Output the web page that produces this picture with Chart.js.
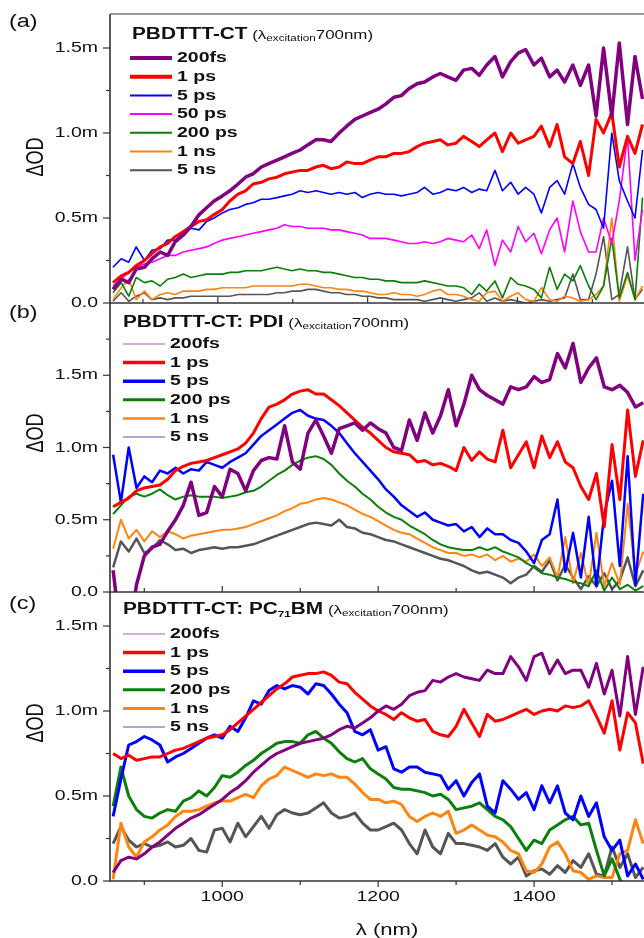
<!DOCTYPE html>
<html lang="en">
<head>
<meta charset="UTF-8" />
<title>Transient absorption spectra</title>
<style>
  body { margin: 0; background: #fff; }
  #wrap { position: relative; width: 644px; height: 938px; overflow: hidden; }
  canvas { position: absolute; left: 0; }
</style>
</head>
<body>
<script src="https://cdn.jsdelivr.net/npm/chart.js"></script>
<div id="wrap">
  <canvas id="chartA" width="644" height="312" style="top:0px"></canvas>
  <canvas id="chartB" width="644" height="304" style="top:296px"></canvas>
  <canvas id="chartC" width="644" height="354" style="top:584px"></canvas>
</div>
<script>
// wavelength grid (nm); panel (a) has its own, slightly compressed axis
const wavelengthsA = [860,871,881,891,902,912,923,933,943,954,964,975,985,995,1006,1016,1027,1037,1047,1058,
  1068,1079,1089,1099,1110,1120,1131,1141,1151,1162,1172,1183,1193,1203,1214,1224,1235,1245,1255,1266,
  1276,1287,1297,1307,1318,1328,1339,1349,1359,1370,1380,1391,1401,1411,1422,1432,1443,1453,1463,1474,
  1484,1495,1505,1515,1526,1536,1547,1557,1567];
const wavelengths = [860,870,880,890,900,910,920,930,940,950,960,970,980,990,1000,1010,1020,1030,1040,1050,
  1060,1070,1080,1090,1100,1110,1120,1130,1140,1150,1160,1170,1180,1190,1200,1210,1220,1230,1240,1250,
  1260,1270,1280,1290,1300,1310,1320,1330,1340,1350,1360,1370,1380,1390,1400,1410,1420,1430,1440,1450,
  1460,1470,1480,1490,1500,1510,1520,1530,1540];

// ΔOD in units of 1e-3 ("m")
// (a) PBDTTT-CT
const a200fs = [0.08,0.14,0.12,0.20,0.21,0.26,0.30,0.28,0.36,0.40,
  0.45,0.52,0.56,0.60,0.63,0.66,0.70,0.74,0.76,0.80,
  0.82,0.84,0.86,0.88,0.90,0.93,0.96,0.96,0.95,1.00,
  1.04,1.08,1.10,1.12,1.14,1.17,1.21,1.22,1.26,1.29,
  1.30,1.33,1.35,1.33,1.31,1.37,1.38,1.34,1.40,1.45,
  1.33,1.42,1.47,1.49,1.40,1.44,1.33,1.37,1.30,1.40,
  1.28,1.40,1.10,1.50,1.10,1.53,1.05,1.45,1.20];
const a1ps = [0.12,0.16,0.18,0.22,0.25,0.29,0.33,0.35,0.39,0.42,
  0.45,0.48,0.49,0.52,0.55,0.60,0.64,0.66,0.70,0.71,
  0.73,0.74,0.76,0.77,0.78,0.78,0.80,0.81,0.79,0.80,
  0.83,0.82,0.82,0.84,0.86,0.86,0.88,0.88,0.89,0.92,
  0.94,0.95,0.96,0.93,0.94,0.98,0.95,0.92,0.96,1.00,
  0.89,1.00,0.94,0.96,0.98,1.04,0.92,1.05,0.86,0.82,
  0.95,0.75,1.08,1.00,1.12,0.80,0.98,0.88,1.05];
const a5ps = [0.21,0.26,0.24,0.33,0.25,0.31,0.32,0.37,0.37,0.41,
  0.44,0.43,0.48,0.50,0.53,0.55,0.56,0.58,0.59,0.61,
  0.61,0.62,0.63,0.64,0.66,0.65,0.66,0.65,0.64,0.65,
  0.64,0.65,0.62,0.64,0.65,0.64,0.64,0.63,0.64,0.65,
  0.68,0.64,0.65,0.67,0.66,0.68,0.65,0.67,0.66,0.78,
  0.66,0.71,0.64,0.68,0.64,0.53,0.68,0.72,0.64,0.82,
  0.68,0.58,0.55,0.44,1.00,0.72,0.60,0.50,0.90];
const a50ps = [0.10,0.14,0.18,0.21,0.23,0.24,0.26,0.28,0.28,0.30,
  0.31,0.32,0.33,0.35,0.37,0.38,0.39,0.40,0.41,0.42,
  0.43,0.44,0.46,0.45,0.45,0.44,0.44,0.44,0.43,0.43,
  0.42,0.41,0.40,0.38,0.38,0.38,0.37,0.36,0.35,0.35,
  0.36,0.35,0.36,0.38,0.37,0.36,0.40,0.32,0.43,0.22,
  0.37,0.30,0.45,0.36,0.41,0.29,0.43,0.50,0.30,0.60,
  0.42,0.30,0.30,0.50,0.35,0.60,0.98,0.25,0.55];
const a200ps = [0.06,0.12,0.04,0.15,0.12,0.13,0.10,0.14,0.15,0.17,
  0.15,0.16,0.17,0.17,0.17,0.18,0.18,0.19,0.19,0.19,
  0.20,0.21,0.20,0.19,0.20,0.19,0.19,0.18,0.18,0.17,
  0.16,0.15,0.15,0.14,0.14,0.13,0.13,0.12,0.12,0.12,
  0.13,0.12,0.11,0.10,0.10,0.09,0.05,0.11,0.07,0.13,
  0.03,0.15,0.11,0.10,0.08,0.03,0.21,0.08,0.17,0.13,
  0.22,0.10,0.02,0.10,0.38,0.03,0.18,0.02,0.62];
const a1ns = [0.02,0.09,0.14,0.02,0.07,0.02,0.05,0.06,0.05,0.07,
  0.07,0.07,0.08,0.08,0.09,0.09,0.09,0.09,0.10,0.10,
  0.10,0.10,0.10,0.10,0.11,0.11,0.10,0.09,0.09,0.08,
  0.08,0.07,0.07,0.06,0.05,0.05,0.06,0.05,0.05,0.04,
  0.05,0.07,0.08,0.05,0.05,0.04,0.02,0.01,0.06,0.07,
  0.01,0.04,0.06,0.02,0.01,0.09,0.02,0.01,0.04,0.03,
  0.01,0.02,0.05,0.10,0.50,0.01,0.16,0.02,0.10];
const a5ns = [0.01,0.06,0.01,0.04,0.06,0.02,0.03,0.02,0.03,0.03,
  0.04,0.04,0.04,0.04,0.04,0.04,0.05,0.05,0.05,0.05,
  0.05,0.06,0.06,0.07,0.07,0.08,0.08,0.07,0.06,0.06,
  0.05,0.05,0.04,0.04,0.03,0.03,0.02,0.02,0.02,0.02,
  0.01,0.02,0.03,0.02,0.01,0.02,0.03,0.06,0.01,0.03,
  0.01,0.02,0.01,0.00,0.01,0.02,0.01,0.02,0.03,0.17,
  0.02,0.02,0.17,0.39,0.02,0.05,0.33,0.02,0.08];

// (b) PBDTTT-CT: PDI
const b200fs = [0.15,-0.30,-0.30,0.05,0.25,0.31,0.33,0.42,0.50,0.60,
  0.76,0.53,0.55,0.73,0.66,0.85,0.82,0.70,0.84,0.91,
  0.93,0.92,1.15,0.90,0.85,1.10,1.19,1.08,0.96,1.13,
  1.15,1.17,1.12,1.17,1.13,1.10,1.00,0.98,1.19,1.05,
  1.24,1.10,1.22,1.40,1.15,1.30,1.50,1.40,1.36,1.33,
  1.30,1.42,1.40,1.42,1.49,1.45,1.47,1.65,1.55,1.72,
  1.45,1.55,1.62,1.42,1.40,1.43,1.38,1.28,1.31];
const b1ps = [0.59,0.62,0.65,0.70,0.72,0.73,0.74,0.78,0.84,0.87,
  0.89,0.90,0.91,0.93,0.95,0.97,0.99,1.03,1.10,1.20,
  1.28,1.30,1.33,1.37,1.39,1.40,1.37,1.37,1.33,1.29,
  1.24,1.19,1.14,1.10,1.05,1.00,0.97,0.96,0.95,0.90,
  0.91,0.88,0.89,0.87,0.84,1.00,0.91,0.97,0.92,0.90,
  1.12,0.86,0.95,1.04,0.86,1.08,0.93,1.04,0.90,0.86,
  0.73,0.64,0.82,0.45,1.02,0.64,1.26,0.80,1.05];
const b5ps = [0.95,0.62,1.00,0.72,0.80,0.76,0.84,0.82,0.86,0.82,
  0.85,0.84,0.90,0.88,0.86,0.90,0.93,0.96,1.02,1.08,
  1.12,1.16,1.20,1.24,1.26,1.22,1.20,1.19,1.15,1.10,
  1.03,0.96,0.90,0.84,0.78,0.71,0.66,0.60,0.56,0.52,
  0.55,0.50,0.48,0.46,0.47,0.42,0.45,0.38,0.44,0.40,
  0.40,0.36,0.34,0.28,0.20,0.36,0.40,0.64,0.14,0.41,
  0.10,0.52,0.04,0.54,0.77,0.18,0.94,0.05,0.68];
const b200ps = [0.54,0.60,0.66,0.68,0.66,0.68,0.71,0.67,0.64,0.66,
  0.67,0.66,0.66,0.66,0.65,0.66,0.67,0.69,0.70,0.73,
  0.77,0.81,0.84,0.88,0.91,0.93,0.94,0.92,0.88,0.82,
  0.77,0.73,0.68,0.64,0.59,0.55,0.52,0.50,0.46,0.43,
  0.40,0.36,0.33,0.31,0.30,0.29,0.29,0.31,0.29,0.31,
  0.28,0.26,0.24,0.20,0.17,0.13,0.12,0.10,0.09,0.07,
  0.06,0.04,0.15,0.01,0.10,0.02,0.05,0.01,0.04];
const b1ns = [0.30,0.50,0.37,0.43,0.35,0.42,0.38,0.42,0.40,0.37,
  0.39,0.40,0.41,0.42,0.43,0.43,0.44,0.45,0.47,0.49,
  0.51,0.53,0.56,0.58,0.61,0.62,0.64,0.65,0.64,0.62,
  0.60,0.57,0.54,0.52,0.49,0.46,0.43,0.41,0.40,0.37,
  0.34,0.31,0.29,0.27,0.27,0.25,0.26,0.24,0.26,0.22,
  0.25,0.21,0.23,0.21,0.26,0.18,0.24,0.10,0.38,0.06,
  0.27,0.04,0.41,0.04,0.20,0.05,0.61,0.12,0.28];
const b5ns = [0.17,0.35,0.28,0.37,0.27,0.30,0.36,0.33,0.29,0.30,
  0.27,0.29,0.30,0.31,0.30,0.31,0.31,0.32,0.33,0.35,
  0.37,0.39,0.41,0.43,0.45,0.47,0.48,0.47,0.46,0.50,
  0.45,0.44,0.41,0.40,0.38,0.36,0.35,0.33,0.31,0.29,
  0.27,0.25,0.23,0.22,0.20,0.18,0.15,0.13,0.14,0.12,
  0.10,0.06,0.10,0.12,0.18,0.14,0.22,0.08,0.19,0.10,
  0.02,0.11,0.04,0.13,0.02,0.08,0.24,0.04,0.15];

// (c) PBDTTT-CT: PC71BM
const c200fs = [0.05,0.12,0.14,0.13,0.16,0.20,0.23,0.27,0.31,0.34,
  0.37,0.39,0.42,0.45,0.48,0.52,0.55,0.59,0.64,0.68,
  0.72,0.75,0.77,0.79,0.81,0.82,0.83,0.84,0.86,0.89,
  0.91,0.90,0.93,0.96,1.00,1.03,1.01,1.04,1.09,1.11,
  1.12,1.18,1.17,1.20,1.22,1.20,1.19,1.18,1.24,1.22,
  1.22,1.32,1.26,1.18,1.32,1.34,1.22,1.30,1.22,1.24,
  1.24,1.14,1.28,1.10,1.24,0.97,1.32,0.98,1.26];
const c1ps = [0.75,0.72,0.74,0.71,0.72,0.73,0.73,0.75,0.77,0.78,
  0.80,0.82,0.84,0.85,0.86,0.89,0.93,0.97,1.01,1.05,
  1.09,1.13,1.16,1.20,1.21,1.22,1.22,1.23,1.21,1.17,
  1.16,1.11,1.07,1.03,1.00,0.98,0.95,0.99,0.96,0.94,
  0.95,0.88,0.86,0.85,0.91,1.01,0.93,0.85,0.98,0.94,
  0.95,0.97,0.99,1.01,0.98,1.00,1.01,1.00,1.03,1.02,
  1.03,1.06,0.97,0.87,1.06,0.77,0.99,0.93,0.69];
const c5ps = [0.38,0.60,0.80,0.82,0.85,0.83,0.80,0.70,0.73,0.75,
  0.78,0.81,0.84,0.86,0.84,0.91,0.88,0.96,1.06,1.04,
  1.12,1.15,1.13,1.15,1.14,1.10,1.16,1.15,1.10,1.04,
  0.99,0.88,0.86,0.89,0.77,0.79,0.66,0.64,0.67,0.67,
  0.64,0.63,0.62,0.54,0.59,0.50,0.58,0.63,0.44,0.40,
  0.59,0.54,0.48,0.52,0.42,0.56,0.46,0.56,0.40,0.36,
  0.50,0.38,0.46,0.26,0.18,0.24,0.03,0.10,0.01];
const c200ps = [0.44,0.67,0.50,0.42,0.38,0.37,0.40,0.42,0.41,0.47,
  0.49,0.53,0.50,0.55,0.62,0.61,0.64,0.68,0.71,0.75,
  0.78,0.81,0.82,0.82,0.81,0.86,0.88,0.84,0.81,0.76,
  0.72,0.70,0.72,0.66,0.63,0.60,0.55,0.54,0.54,0.53,
  0.52,0.50,0.51,0.48,0.42,0.43,0.44,0.46,0.42,0.38,
  0.36,0.32,0.25,0.18,0.24,0.22,0.30,0.33,0.36,0.38,
  0.33,0.34,0.18,0.03,0.13,0.01,-0.05,-0.05,-0.05];
const c1ns = [0.01,0.34,0.20,0.14,0.23,0.26,0.30,0.33,0.38,0.41,
  0.41,0.42,0.44,0.46,0.47,0.47,0.49,0.51,0.49,0.56,
  0.60,0.62,0.67,0.65,0.63,0.61,0.63,0.62,0.63,0.61,
  0.61,0.57,0.52,0.48,0.48,0.46,0.47,0.45,0.38,0.35,
  0.38,0.40,0.38,0.41,0.28,0.30,0.33,0.30,0.27,0.26,
  0.23,0.18,0.16,0.06,0.05,0.10,0.20,0.23,0.16,0.06,
  0.05,0.01,0.03,0.02,0.02,0.16,0.18,0.36,0.22];
const c5ns = [0.22,0.32,0.24,0.20,0.22,0.20,0.21,0.23,0.20,0.21,
  0.25,0.18,0.17,0.30,0.31,0.23,0.34,0.26,0.32,0.38,
  0.31,0.39,0.42,0.40,0.39,0.40,0.43,0.46,0.40,0.37,
  0.38,0.40,0.34,0.30,0.30,0.32,0.34,0.30,0.22,0.16,
  0.30,0.20,0.16,0.28,0.22,0.22,0.21,0.20,0.18,0.22,
  0.14,0.10,0.14,0.03,0.06,0.07,0.04,0.09,0.05,0.12,
  0.08,0.16,0.04,0.03,0.20,0.08,0.16,0.02,0.08];

const labelsA = ['200fs', '1 ps', '5 ps', '50 ps', '200 ps', '1 ns', '5 ns'];
const labelsBC = ['200fs', '1 ps', '5 ps', '200 ps', '1 ns', '5 ns'];

const yMajorTicks = [0, 0.5, 1.0, 1.5];
const yTickLabels = ['0.0', '0.5m', '1.0m', '1.5m'];
const yMinorTicks = [0.25, 0.75, 1.25, 1.75];
const xMajorTicks = [1000, 1200, 1400];
const xTickLabels = ['1000', '1200', '1400'];
const xMinorTicks = [900, 1100, 1300, 1500];

const PURPLE = '#800080', RED = '#ff0000', BLUE = '#0000ff', MAGENTA = '#ff00ff',
      GREEN = '#0a7f0a', ORANGE = '#ff8410', GRAY = '#555555';
const INK = '#333333';
const FONT = '"Liberation Sans", Arial, sans-serif';
const SX = 1.3; // the reference's lettering is stretched sideways

function stretchText(ctx, str, x, y, font, align) {
  ctx.save();
  ctx.font = font;
  ctx.textBaseline = 'middle';
  ctx.textAlign = 'left';
  const w = ctx.measureText(str).width * SX;
  let left = x;
  if (align === 'right') left = x - w;
  else if (align === 'center') left = x - w / 2;
  ctx.translate(left, y);
  ctx.scale(SX, 1);
  ctx.fillText(str, 0, 0);
  ctx.restore();
  return w;
}

function seg(ctx, x1, y1, x2, y2) {
  ctx.beginPath();
  ctx.moveTo(x1, y1);
  ctx.lineTo(x2, y2);
  ctx.stroke();
}

const decorPlugin = {
  id: 'panelDecor',
  afterDraw(chart, args, o) {
    const ctx = chart.ctx, ca = chart.chartArea;
    const xs = chart.scales.x, ys = chart.scales.y;
    const off = o.top;
    ctx.save();
    ctx.fillStyle = '#111';
    ctx.strokeStyle = INK;
    ctx.lineCap = 'butt';

    // frame
    ctx.lineWidth = 1.6;
    seg(ctx, ca.left, ca.top, ca.left, ca.bottom + 0.8);
    seg(ctx, ca.left, ca.bottom, ca.right, ca.bottom);
    if (o.topFrame) {
      ctx.strokeStyle = '#777';
      seg(ctx, ca.left, ca.top, ca.right, ca.top);
      ctx.strokeStyle = INK;
    }

    // y ticks
    ctx.lineWidth = 1.2;
    yMajorTicks.forEach((v, i) => {
      const py = ys.getPixelForValue(v);
      seg(ctx, ca.left - 7, py, ca.left, py);
      stretchText(ctx, yTickLabels[i], ca.left - 12, py, '15px ' + FONT, 'right');
    });
    yMinorTicks.forEach(v => {
      if (v >= ys.max) return;
      const py = ys.getPixelForValue(v);
      seg(ctx, ca.left - 4, py, ca.left, py);
    });

    // x ticks
    const dir = o.xLabels ? 1 : -1;
    xMajorTicks.forEach((v, i) => {
      const px = xs.getPixelForValue(v);
      seg(ctx, px, ca.bottom, px, ca.bottom + dir * 6);
      if (o.xLabels) stretchText(ctx, xTickLabels[i], px, ca.bottom + 16, '15px ' + FONT, 'center');
    });
    xMinorTicks.forEach(v => {
      const px = xs.getPixelForValue(v);
      seg(ctx, px, ca.bottom, px, ca.bottom + dir * 4);
    });
    if (o.xLabels) {
      stretchText(ctx, 'λ (nm)', 387, ca.bottom + 49, '17px ' + FONT, 'center');
    }

    // panel letter and y title
    stretchText(ctx, o.letter, 9, o.letterY - off, '18px ' + FONT, 'left');
    ctx.save();
    ctx.translate(37, o.yTitleY - off);
    ctx.scale(SX, 1);
    ctx.rotate(-Math.PI / 2);
    ctx.font = '18px ' + FONT;
    ctx.textAlign = 'center';
    ctx.textBaseline = 'middle';
    ctx.fillText('ΔOD', 0, 0);
    ctx.restore();

    // header with subscripts
    let hx = o.headerX;
    o.header.forEach(p => {
      hx += stretchText(ctx, p.t, hx, o.headerY - off + (p.dy || 0), p.f, 'left');
    });

    // legend
    o.legend.forEach((item, i) => {
      const ly = o.legendY - off + i * o.legendStep;
      ctx.strokeStyle = item.color;
      ctx.lineWidth = item.width;
      seg(ctx, o.legendX, ly, o.legendX + 42, ly);
      stretchText(ctx, item.label, o.legendX + 47, ly, 'bold 15px ' + FONT, 'left');
    });
    ctx.restore();
  }
};

function buildSets(xs, seriesList, labels, colors, widths) {
  return seriesList.map((vals, i) => ({
    label: labels[i],
    data: vals.map((v, k) => ({ x: xs[k], y: v })),
    borderColor: colors[i],
    borderWidth: widths[i],
    pointRadius: 0,
    fill: false,
    tension: 0,
    clip: 0,
    borderJoinStyle: 'round'
  }));
}

function makeChart(id, datasets, xMax, yMax, padding, decor) {
  return new Chart(document.getElementById(id), {
    type: 'line',
    data: { datasets },
    options: {
      responsive: false,
      animation: false,
      layout: { autoPadding: false, padding },
      plugins: { legend: { display: false }, tooltip: { enabled: false }, panelDecor: decor },
      scales: {
        x: { type: 'linear', min: 856, max: xMax, display: false },
        y: { type: 'linear', min: 0, max: yMax, display: false }
      }
    },
    plugins: [decorPlugin]
  });
}

const sub = (t) => ({ t, f: '9px ' + FONT, dy: 4 });
const excitationTail = [
  { t: ' (λ', f: '13px ' + FONT },
  sub('excitation'),
  { t: '700nm)', f: '13px ' + FONT }
];

makeChart('chartA',
  buildSets(wavelengthsA, [a200fs, a1ps, a5ps, a50ps, a200ps, a1ns, a5ns], labelsA,
    [PURPLE, RED, BLUE, MAGENTA, GREEN, ORANGE, GRAY], [3.5, 3, 1.6, 1.6, 1.6, 1.6, 1.6]),
  1569, 1.7, { left: 110, top: 14, right: 0, bottom: 9 },
  {
    top: 0, letter: '(a)', letterY: 22, yTitleY: 157, topFrame: true, xLabels: false,
    headerX: 132, headerY: 35,
    header: [{ t: 'PBDTTT-CT', f: 'bold 16px ' + FONT }].concat(excitationTail),
    legendX: 130, legendY: 58, legendStep: 18.7,
    legend: labelsA.map((label, i) => ({ label,
      color: [PURPLE, RED, BLUE, MAGENTA, GREEN, ORANGE, GRAY][i],
      width: [4, 4, 2, 2, 2, 2, 2][i] }))
  });

makeChart('chartB',
  buildSets(wavelengths, [b200fs, b1ps, b5ps, b200ps, b1ns, b5ns], labelsBC,
    [PURPLE, RED, BLUE, GREEN, ORANGE, GRAY], [3.5, 3, 2.5, 2, 2, 2.5]),
  1541, 2.0, { left: 110, top: 7, right: 0, bottom: 8 },
  {
    top: 296, letter: '(b)', letterY: 313, yTitleY: 433, topFrame: false, xLabels: false,
    headerX: 123, headerY: 323,
    header: [{ t: 'PBDTTT-CT: PDI', f: 'bold 16px ' + FONT }].concat(excitationTail),
    legendX: 123, legendY: 344, legendStep: 18.6,
    legend: labelsBC.map((label, i) => ({ label,
      color: ['#c890cc', RED, BLUE, GREEN, ORANGE, '#8c8cc4'][i],
      width: [1.5, 3.5, 3.5, 3, 2.5, 1.5][i] }))
  });

makeChart('chartC',
  buildSets(wavelengths, [c200fs, c1ps, c5ps, c200ps, c1ns, c5ns], labelsBC,
    [PURPLE, RED, BLUE, GREEN, ORANGE, GRAY], [3, 3, 3, 3, 3, 3]),
  1541, 1.7, { left: 110, top: 8, right: 0, bottom: 57 },
  {
    top: 584, letter: '(c)', letterY: 604, yTitleY: 723, topFrame: false, xLabels: true,
    headerX: 123, headerY: 610,
    header: [
      { t: 'PBDTTT-CT: PC', f: 'bold 16px ' + FONT },
      { t: '71', f: 'bold 9px ' + FONT, dy: 5 },
      { t: 'BM', f: 'bold 16px ' + FONT }
    ].concat(excitationTail),
    legendX: 123, legendY: 634, legendStep: 18.6,
    legend: labelsBC.map((label, i) => ({ label,
      color: ['#c890cc', RED, BLUE, GREEN, ORANGE, '#8c8cc4'][i],
      width: [1.5, 3.5, 3.5, 3, 3, 1.5][i] }))
  });
</script>
</body>
</html>
